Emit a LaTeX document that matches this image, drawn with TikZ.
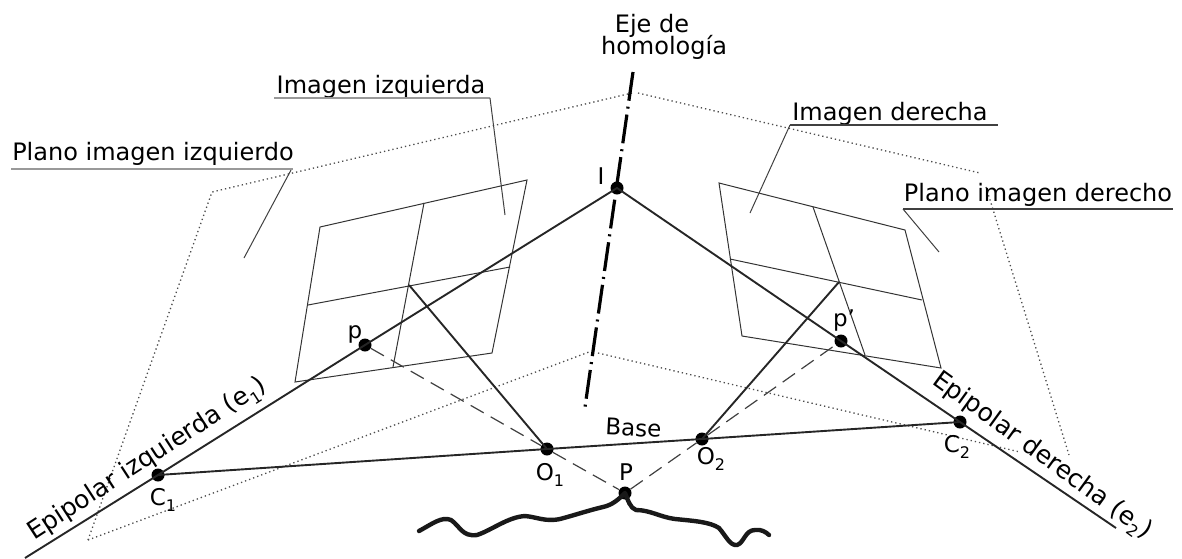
\documentclass[tikz,border=0pt]{standalone}
\usepackage{fontspec}
\setmainfont{DejaVu Sans}
\newcommand{\lowidx}[1]{\raisebox{-0.28em}{\fontsize{16}{16}\selectfont #1}}
\tikzset{
 pt/.style={circle,fill=black,inner sep=0pt,minimum size=13pt},
 solidline/.style={line width=1.9pt,black!85},
 dashline/.style={line width=1.2pt,black!75,dash pattern=on 15pt off 8pt},
 frame/.style={line width=1pt,black!80},
 planeline/.style={line width=1.3pt,black!70,dash pattern=on 1.3pt off 3pt},
 leader/.style={line width=1pt,black!75},
 grayrule/.style={line width=2pt,black!40},
 darkrule/.style={line width=1.5pt,black!75},
 axisline/.style={line width=3.2pt,black,dash pattern=on 29pt off 6pt on 2pt off 6pt},
 lbl/.style={inner sep=0pt,anchor=base,font=\fontsize{24}{26}\selectfont,black},
 eplbl/.style={inner sep=0pt,anchor=base,font=\fontsize{25}{27}\selectfont,black},
 sm/.style={inner sep=0pt,anchor=base,font=\fontsize{23}{25}\selectfont,black},
 curve/.style={line width=4.4pt,black!90,line cap=round,line join=round}
}
\begin{document}
\begin{tikzpicture}[x=1pt,y=-1pt]
\useasboundingbox (0,0) rectangle (1182,558);
% plane corners
\coordinate (a1) at (212,192); \coordinate (a2) at (632,93); \coordinate (a3) at (589,352); \coordinate (a4) at (88,540);
\coordinate (b1) at (638,93); \coordinate (b2) at (980,173); \coordinate (b3) at (1069,455); \coordinate (b4) at (598,353); \coordinate (b5) at (1020,452);
\draw[planeline] (a4) -- (a1) -- (a2);
\draw[planeline] (a4) -- (a3);
\draw[planeline] (b1) -- (b2);
\draw[planeline] (b2) ++(6,14) -- (b3);
\draw[planeline] (b4) -- (b5);
% image frames
\coordinate (l1) at (320,227); \coordinate (l2) at (527,180); \coordinate (l3) at (492,353); \coordinate (l4) at (295,382);
\coordinate (l5) at (424,203); \coordinate (l6) at (393,367); \coordinate (l7) at (308,305); \coordinate (l8) at (510,267);
\draw[frame] (l1) -- (l2) -- (l3) -- (l4) -- cycle;
\draw[frame] (l5) -- (l6);
\draw[frame] (l7) -- (l8);
\coordinate (r1) at (719,183); \coordinate (r2) at (905,230); \coordinate (r3) at (941,368); \coordinate (r4) at (742,336);
\coordinate (r5) at (813,207); \coordinate (r6) at (865,355); \coordinate (r7) at (730,259); \coordinate (r8) at (922,300);
\draw[frame] (r1) -- (r2) -- (r3) -- (r4) -- cycle;
\draw[frame] (r5) -- (r6);
\draw[frame] (r7) -- (r8);
% points
\node[pt] (I) at (617,188) {};
\node[pt] (p) at (365,345) {};
\node[pt] (pp) at (841,341) {};
\node[pt] (C1) at (158,475) {};
\node[pt] (C2) at (960,422) {};
\node[pt] (O1) at (547,449) {};
\node[pt] (O2) at (702,439) {};
\node[pt] (P) at (625,493) {};
\coordinate (e1) at (25,558);
\coordinate (e2) at (1116,528);
\coordinate (gl) at (409,285);
\coordinate (gr) at (839,282);
\coordinate (ax1) at (633,72);
\coordinate (ax2) at (585,407);
% axis
\draw[axisline] (ax1) -- (ax2);
% connectors
\draw[solidline] (e1) -- (C1.center) -- (p.center) -- (I.center) -- (pp.center) -- (C2.center) -- (e2);
\draw[solidline] (C1.center) -- (O1.center) -- (O2.center) -- (C2.center);
\draw[solidline] (gl) -- (O1.center);
\draw[solidline] (gr) -- (O2.center);
\draw[dashline] (p) -- (O1) ;
\draw[dashline] (O1) -- (P);
\draw[dashline] (P) -- (O2);
\draw[dashline] (O2) -- (pp);
% terrain
\draw[curve] (419,531) .. controls (432,524) and (442,516) .. (451,520)
 .. controls (460,526) and (462,537) .. (477,535)
 .. controls (492,530) and (508,517) .. (525,516)
 .. controls (537,517) and (545,522) .. (560,519)
 .. controls (575,515) and (590,510) .. (603,507)
 .. controls (612,505) and (618,500) .. (P.center)
 .. controls (628,500) and (630,508) .. (636,510)
 .. controls (650,510) and (660,517) .. (675,519)
 .. controls (695,521) and (710,522) .. (719,528)
 .. controls (726,536) and (730,546) .. (737,545)
 .. controls (744,543) and (745,530) .. (755,530)
 .. controls (761,529) and (766,532) .. (769,535);
% labels and leaders
\node[lbl] (tii) at (381,93) {Imagen izquierda};
\node[lbl] (tpi) at (153,160) {Plano imagen izquierdo};
\node[lbl] (tid) at (890,120) {Imagen derecha};
\node[lbl] (tpd) at (1038,201) {Plano imagen derecho};
\coordinate (ui1) at (274,98); \coordinate (ui2) at (490,98);
\coordinate (upi1) at (11,169); \coordinate (upi2) at (293,169);
\coordinate (ud1) at (790,125); \coordinate (ud2) at (998,125);
\coordinate (upd1) at (903,209); \coordinate (upd2) at (1173,209);
\draw[grayrule] (ui1) -- (ui2);
\draw[grayrule] (upi1) -- (upi2);
\draw[darkrule] (ud1) -- (ud2);
\draw[darkrule] (upd1) -- (upd2);
\coordinate (li) at (505,215); \coordinate (lpi) at (244,258); \coordinate (ld) at (750,213); \coordinate (lpd) at (939,252);
\draw[leader] (ui2) -- (li);
\draw[leader] (291,170) -- (lpi);
\draw[leader] (ud1) -- (ld);
\draw[leader] (upd1) -- (lpd);
\node[lbl] (eje) at (652,32) {Eje de};
\node[lbl] (hom) at (664,54) {homología};
\node[sm] (tI) at (601,184) {I};
\node[sm] (tp) at (355,338) {p};
\node[sm] (tpp) at (844,326) {p'};
\node[sm] (tC1) at (163,505) {C\lowidx{1}};
\node[sm] (tO1) at (550,480) {O\lowidx{1}};
\node[sm] (tO2) at (711,464) {O\lowidx{2}};
\node[sm] (tP) at (626,480) {P};
\node[sm] (tC2) at (957,452) {C\lowidx{2}};
\node[sm,rotate=-3] (tB) at (633,436) {Base};
\node[eplbl,rotate=33] (te1) at (151,465) {Epipolar izquierda (e\lowidx{1})};
\node[eplbl,rotate=-36] (te2) at (1038,461) {Epipolar derecha (e\lowidx{2})};
\end{tikzpicture}
\end{document}
